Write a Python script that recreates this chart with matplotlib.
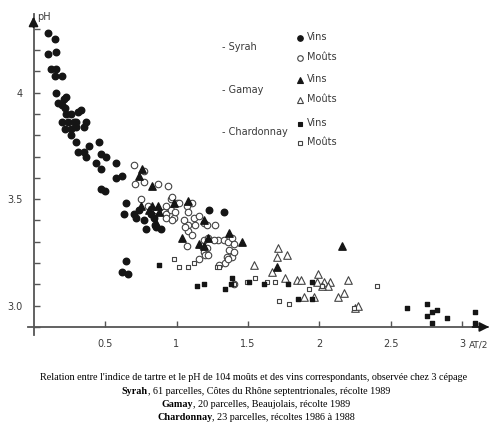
import matplotlib
matplotlib.use("Agg")
import matplotlib.pyplot as plt
from matplotlib.ticker import MultipleLocator

# Syrah, vins (ronds pleins)
syrah_vins_x = [0.10, 0.15, 0.10, 0.16, 0.12, 0.16, 0.15, 0.20, 0.16, 0.21, 0.23, 0.17, 0.20, 0.22, 0.23,
                0.26, 0.31, 0.33, 0.20, 0.24, 0.28, 0.30, 0.37, 0.22, 0.26, 0.30, 0.35, 0.26, 0.30, 0.39,
                0.46, 0.31, 0.35, 0.37, 0.47, 0.51, 0.44, 0.58, 0.47, 0.58, 0.62, 0.47, 0.50, 0.65, 0.63,
                0.70, 0.74, 0.72, 0.77, 0.79, 0.82, 0.84, 0.85, 0.89, 0.86, 1.23, 1.33, 0.65, 0.62, 0.66]
syrah_vins_y = [4.28, 4.25, 4.18, 4.19, 4.11, 4.11, 4.08, 4.08, 4.00, 3.97, 3.98, 3.95, 3.94, 3.93, 3.90,
                3.90, 3.91, 3.92, 3.86, 3.86, 3.86, 3.86, 3.86, 3.83, 3.83, 3.84, 3.84, 3.80, 3.77, 3.75,
                3.77, 3.72, 3.72, 3.70, 3.71, 3.70, 3.67, 3.67, 3.64, 3.60, 3.61, 3.55, 3.54, 3.48, 3.43,
                3.43, 3.45, 3.41, 3.40, 3.36, 3.43, 3.41, 3.38, 3.36, 3.37, 3.45, 3.44, 3.21, 3.16, 3.15]

# Syrah, moûts (ronds vides)
syrah_mouts_x = [0.70, 0.77, 0.71, 0.77, 0.87, 0.94, 0.75, 0.80, 0.86, 0.91, 0.93, 0.96, 1.00, 1.02, 1.07,
                 1.11, 0.93, 0.98, 0.96, 0.99, 1.08, 1.12, 1.16, 1.05, 1.08, 1.13, 1.19, 1.21, 1.27, 1.08,
                 1.11, 1.07, 1.19, 1.22, 1.18, 1.29, 1.33, 1.36, 1.39, 1.40, 1.19, 1.20, 1.22, 1.37, 1.39,
                 1.35, 1.34, 1.30, 1.16, 0.97, 0.93, 0.97, 1.06, 1.26, 1.21, 1.36, 1.40, 1.40]
syrah_mouts_y = [3.66, 3.63, 3.57, 3.58, 3.57, 3.56, 3.50, 3.47, 3.45, 3.44, 3.43, 3.50, 3.48, 3.48, 3.47,
                 3.48, 3.41, 3.41, 3.45, 3.44, 3.44, 3.41, 3.42, 3.40, 3.38, 3.38, 3.39, 3.38, 3.38, 3.35,
                 3.33, 3.28, 3.31, 3.32, 3.28, 3.31, 3.31, 3.30, 3.32, 3.29, 3.25, 3.24, 3.24, 3.26, 3.23,
                 3.23, 3.20, 3.19, 3.22, 3.51, 3.47, 3.40, 3.37, 3.31, 3.27, 3.22, 3.25, 3.10]

# Gamay, vins (triangles pleins)
gamay_vins_x = [0.76, 0.74, 0.83, 0.75, 0.83, 0.87, 0.98, 1.08, 1.19, 0.86, 1.04, 1.16, 1.19, 1.22, 1.37,
                1.46, 1.70, 2.16, 0.81, 0.88]
gamay_vins_y = [3.64, 3.61, 3.56, 3.47, 3.47, 3.47, 3.48, 3.49, 3.40, 3.39, 3.32, 3.29, 3.28, 3.32, 3.34,
                3.30, 3.18, 3.28, 3.45, 3.44]

# Gamay, moûts (triangles vides)
gamay_mouts_x = [1.71, 1.70, 1.77, 1.54, 1.67, 1.76, 1.84, 1.87, 1.99, 1.98, 2.03, 2.07, 2.20, 2.06, 2.02,
                 2.13, 2.17, 1.89, 1.96, 2.25, 2.27]
gamay_mouts_y = [3.27, 3.23, 3.24, 3.19, 3.16, 3.13, 3.12, 3.12, 3.15, 3.11, 3.11, 3.11, 3.12, 3.09, 3.09,
                 3.04, 3.06, 3.04, 3.04, 2.99, 3.00]

# Chardonnay, vins (carrés pleins)
chard_vins_x = [0.88, 1.14, 1.19, 1.39, 1.38, 1.34, 1.51, 1.61, 1.78, 1.95, 1.85, 1.95, 2.61, 2.75, 2.75,
                2.79, 2.82, 2.79, 2.89, 3.09, 3.09]
chard_vins_y = [3.19, 3.09, 3.10, 3.13, 3.10, 3.08, 3.11, 3.10, 3.10, 3.11, 3.03, 3.03, 2.99, 3.01, 2.95,
                2.97, 2.98, 2.92, 2.94, 2.97, 2.92]

# Chardonnay, moûts (carrés vides)
chard_mouts_x = [0.98, 1.02, 1.08, 1.12, 1.28, 1.30, 1.40, 1.49, 1.55, 1.63, 1.72, 1.79, 1.93, 2.02, 2.40,
                 2.24, 1.69]
chard_mouts_y = [3.22, 3.18, 3.18, 3.20, 3.18, 3.18, 3.10, 3.11, 3.13, 3.11, 3.02, 3.01, 3.08, 3.09, 3.09,
                 2.99, 3.11]

x_ticks = [0.5, 1, 1.5, 2, 2.5, 3]
x_labels = ["0.5", "1", "1.5", "2", "2.5", "3"]
y_ticks = [3.0, 3.5, 4.0]
y_labels = ["3.0", "3.5", "4"]

INK = "#151515"
AXC = "#555555"
TXT = "#3a3a3a"

fig = plt.figure(figsize=(4.9, 4.3), dpi=100)
ax = fig.add_axes([0.0567, 0.2198, 0.9397, 0.748])
ax.set_xlim(-0.04, 3.18)
ax.set_ylim(2.86, 4.37)

for s in ["top", "right"]:
    ax.spines[s].set_visible(False)
ax.spines["left"].set_position(("data", 0))
ax.spines["bottom"].set_position(("data", 2.9))
for s in ["left", "bottom"]:
    ax.spines[s].set_color(AXC)
    ax.spines[s].set_linewidth(1.3)

ax.set_xticks(x_ticks)
ax.set_xticklabels(x_labels)
ax.set_yticks(y_ticks)
ax.set_yticklabels(y_labels)
ax.yaxis.set_minor_locator(MultipleLocator(0.1))
ax.tick_params(axis="x", direction="in", length=4, width=1, color=AXC, pad=9,
               labelsize=7, labelcolor=TXT)
ax.tick_params(axis="y", which="both", direction="in", length=4, width=1, color=AXC, pad=8,
               labelsize=7, labelcolor=TXT)

# fleches des axes
ax.annotate("", xy=(0, 1.0), xytext=(0, 0.95), xycoords=("data", "axes fraction"),
            arrowprops=dict(arrowstyle="-|>", color=INK, lw=1.3, mutation_scale=14),
            annotation_clip=False)
ax.annotate("", xy=(1.008, 2.9), xytext=(0.96, 2.9), xycoords=("axes fraction", "data"),
            arrowprops=dict(arrowstyle="-|>", color=INK, lw=1.3, mutation_scale=14),
            annotation_clip=False)
fig.text(37 / 490, 1 - 17 / 430, "pH", fontsize=7, color=TXT, va="center")
fig.text(469 / 490, 1 - 345 / 430, "AT/2", fontsize=6.5, color=TXT, va="center")

# nuages de points
ax.scatter(syrah_vins_x, syrah_vins_y, s=22, marker="o", color=INK, zorder=3)
ax.scatter(syrah_mouts_x, syrah_mouts_y, s=22, marker="o", facecolor="white",
           edgecolor="#444444", linewidth=0.8, zorder=2)
ax.scatter(gamay_vins_x, gamay_vins_y, s=28, marker="^", color=INK, zorder=4)
ax.scatter(gamay_mouts_x, gamay_mouts_y, s=30, marker="^", facecolor="white",
           edgecolor="#444444", linewidth=0.8, zorder=2)
ax.scatter(chard_vins_x, chard_vins_y, s=12, marker="s", color=INK, zorder=3)
ax.scatter(chard_mouts_x, chard_mouts_y, s=12, marker="s", facecolor="white",
           edgecolor="#444444", linewidth=0.8, zorder=2)

# legende
legend_rows = [
    ("- Syrah", 47, [("o", True, 38), ("o", False, 58)]),
    ("- Gamay", 90, [("^", True, 80), ("^", False, 100)]),
    ("- Chardonnay", 132, [("s", True, 124), ("s", False, 143)]),
]
for name, ny, entries in legend_rows:
    fig.text(222 / 490, 1 - ny / 430, name, fontsize=7, color=TXT, va="center")
    for mk, filled, my in entries:
        size = {"o": 4.0, "^": 5.0, "s": 3.2}[mk]
        fig.lines.append(plt.Line2D([300 / 490], [1 - my / 430], marker=mk, markersize=size,
                                    markerfacecolor=INK if filled else "white",
                                    markeredgecolor=INK if filled else "#444444",
                                    markeredgewidth=0.8, linestyle="none",
                                    transform=fig.transFigure, figure=fig))
        fig.text(307 / 490, 1 - (my - 1) / 430, "Vins" if filled else "Moûts",
                 fontsize=7, color=TXT, va="center")

# legende sous la figure
serif = "Liberation Serif"
fig.text(0.517, 1 - 378 / 430,
         "Relation entre l'indice de tartre et le pH de 104 moûts et des vins correspondants, "
         "observée chez 3 cépage", fontsize=7.3, family=serif, ha="center", va="center")

caption_rows = [
    ("Syrah", ", 61 parcelles, Côtes du Rhône septentrionales, récolte 1989", 391),
    ("Gamay", ", 20 parcelles, Beaujolais, récolte 1989", 404.5),
    ("Chardonnay", ", 23 parcelles, récoltes 1986 à 1988", 418),
]
renderer = fig.canvas.get_renderer()
for bold, rest, cy in caption_rows:
    t1 = fig.text(0, 1 - cy / 430, bold, fontsize=7.3, family=serif, weight="bold", va="center")
    t2 = fig.text(0, 1 - cy / 430, rest, fontsize=7.3, family=serif, va="center")
    w1 = t1.get_window_extent(renderer).width
    w2 = t2.get_window_extent(renderer).width
    x0 = 256 - (w1 + w2) / 2
    t1.set_x(x0 / 490)
    t2.set_x((x0 + w1) / 490)

fig.savefig("out.png", dpi=100)
